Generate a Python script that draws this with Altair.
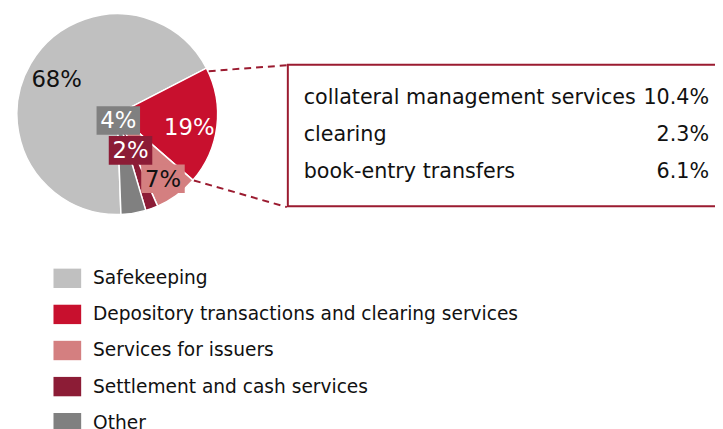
import json
import math
import altair as alt
import pandas as pd

# ---- data ----
categories = ["Safekeeping", "Depository transactions and clearing services",
              "Services for issuers", "Settlement and cash services", "Other"]
shares = [68, 19, 7, 2, 4]
share_labels = ["68%", "19%", "7%", "2%", "4%"]
colors = ["#c0c0c0", "#c8102e", "#d47f80", "#8c1c36", "#808080"]
pie_order = ["Depository transactions and clearing services", "Services for issuers",
             "Settlement and cash services", "Other", "Safekeeping"]

detail_items = ["collateral management services", "clearing", "book-entry transfers"]
detail_values = ["10.4%", "2.3%", "6.1%"]

# ---- layout ----
W, H = 715, 421
CX, CY, R = 110.5, 105, 101.5
A0 = math.radians(62.7)
label_r = [74, 80, 39, 6.5, 71]          # by pie_order rank
label_da = [3.5, 1, 0, 0, 0]             # small angular nudge (degrees) by rank
boxed = ["Services for issuers", "Settlement and cash services", "Other"]
white_text = ["Depository transactions and clearing services", "Settlement and cash services", "Other"]
FONT = "DejaVu Sans"
DARK = "#9b1b30"

pie_df = pd.DataFrame({"category": categories, "share": shares, "label": share_labels})
rank_expr = "indexof(" + json.dumps(pie_order) + ", datum.category)"

color_enc = alt.Color(
    "category:N",
    scale=alt.Scale(domain=categories, range=colors),
    legend=alt.Legend(
        orient="none", legendX=46, legendY=257, title=None, padding=0,
        symbolType="M-1,-0.7H1V0.7H-1Z", symbolSize=784, symbolStrokeWidth=0,
        symbolOpacity=1, labelFont=FONT, labelFontSize=18.8, labelColor="#111111",
        labelOffset=12, rowPadding=12.5, labelLimit=600,
    ),
)

base = alt.Chart(pie_df).transform_calculate(rank=rank_expr)

pie = base.mark_arc(radius=R, stroke="white", strokeWidth=1.5).encode(
    theta=alt.Theta("share:Q", stack=True, scale=alt.Scale(range=[A0, A0 + 2 * math.pi])),
    order=alt.Order("rank:Q"),
    color=color_enc,
    x=alt.value(CX), y=alt.value(CY),
)

lab = base.transform_window(
    cum="sum(share)", sort=[alt.SortField("rank")], frame=[None, 0]
).transform_joinaggregate(total="sum(share)").transform_calculate(
    mid=f"{A0} + (datum.cum - datum.share/2)/datum.total*2*PI + "
        + json.dumps(label_da) + "[datum.rank]*PI/180",
    lr=json.dumps(label_r) + "[datum.rank]",
).transform_calculate(
    lx=f"{CX} + datum.lr*sin(datum.mid)",
    ly=f"{CY} - datum.lr*cos(datum.mid)",
)

boxes = lab.transform_filter(
    alt.FieldOneOfPredicate(field="category", oneOf=boxed)
).transform_calculate(
    bx1="datum.lx - 22", bx2="datum.lx + 22", by1="datum.ly - 14.5", by2="datum.ly + 14.5"
).mark_rect().encode(
    x=alt.X("bx1:Q", scale=None), x2="bx2:Q",
    y=alt.Y("by1:Q", scale=None), y2="by2:Q",
    color=color_enc,
)

txt_white = lab.transform_filter(
    alt.FieldOneOfPredicate(field="category", oneOf=white_text)
).mark_text(font=FONT, fontSize=23, color="white", baseline="middle", align="center", dy=1).encode(
    x=alt.X("lx:Q", scale=None), y=alt.Y("ly:Q", scale=None), text="label:N"
)
txt_black = lab.transform_filter(
    {"not": alt.FieldOneOfPredicate(field="category", oneOf=white_text).to_dict()}
).mark_text(font=FONT, fontSize=23, color="#111111", baseline="middle", align="center", dy=1).encode(
    x=alt.X("lx:Q", scale=None), y=alt.Y("ly:Q", scale=None), text="label:N"
)

# ---- detail box ----
det_df = pd.DataFrame({"item": detail_items, "value": detail_values})
det = alt.Chart(det_df).transform_calculate(
    ty="95 + indexof(" + json.dumps(detail_items) + ", datum.item)*37.2"
)
det_items = det.mark_text(font=FONT, fontSize=20.9, color="#111111", align="left",
                          baseline="alphabetic").encode(
    x=alt.value(299), y=alt.Y("ty:Q", scale=None), text="item:N")
det_vals = det.mark_text(font=FONT, fontSize=20.9, color="#111111", align="right",
                         baseline="alphabetic").encode(
    x=alt.value(709), y=alt.Y("ty:Q", scale=None), text="value:N")

frame = alt.Chart(pd.DataFrame({"a": [0]})).mark_rect(
    fillOpacity=0, stroke=DARK, strokeWidth=2
).encode(x=alt.value(283), x2=alt.value(740), y=alt.value(55), y2=alt.value(198))

line1 = alt.Chart(pd.DataFrame({"a": [0]})).mark_rule(
    color=DARK, strokeWidth=2, strokeDash=[7, 5]
).encode(x=alt.value(203), y=alt.value(61.5), x2=alt.value(282), y2=alt.value(55.5))
line2 = alt.Chart(pd.DataFrame({"a": [0]})).mark_rule(
    color=DARK, strokeWidth=2, strokeDash=[7, 5]
).encode(x=alt.value(188), y=alt.value(172), x2=alt.value(282), y2=alt.value(199))

chart = alt.layer(
    pie, boxes, txt_white, txt_black, line1, line2, frame, det_items, det_vals
).properties(
    width=W, height=H, autosize="none", padding=0
).configure_view(stroke=None)

chart.save("out.html", embed_options={"renderer": "svg", "actions": False})
